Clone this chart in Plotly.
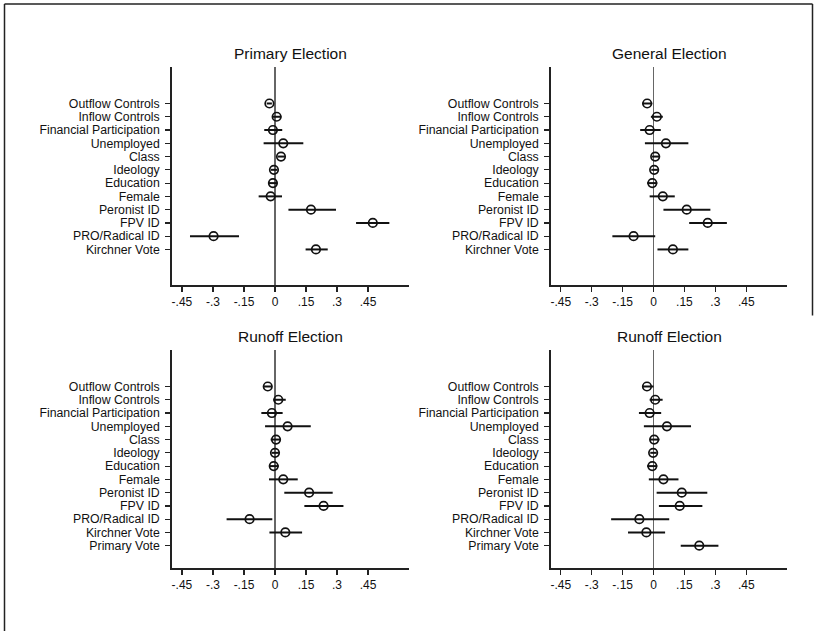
import plotly.graph_objects as go

labels_top = ["Outflow Controls", "Inflow Controls", "Financial Participation", "Unemployed",
              "Class", "Ideology", "Education", "Female", "Peronist ID", "FPV ID",
              "PRO/Radical ID", "Kirchner Vote"]
labels_bottom = labels_top + ["Primary Vote"]

titles = ["Primary Election", "General Election", "Runoff Election", "Runoff Election"]

# Primary Election
p1_est = [-0.027, 0.008, -0.010, 0.040, 0.029, -0.005, -0.010, -0.021, 0.174, 0.473, -0.297, 0.198]
p1_lo  = [-0.040, -0.011, -0.052, -0.055, 0.013, -0.020, -0.030, -0.079, 0.065, 0.392, -0.411, 0.148]
p1_hi  = [-0.015, 0.031, 0.035, 0.137, 0.048, 0.011, 0.010, 0.034, 0.295, 0.553, -0.174, 0.255]

# General Election
p2_est = [-0.031, 0.016, -0.019, 0.060, 0.008, 0.003, -0.006, 0.045, 0.161, 0.263, -0.097, 0.094]
p2_lo  = [-0.056, -0.013, -0.065, -0.042, -0.008, -0.011, -0.031, -0.019, 0.048, 0.173, -0.200, 0.019]
p2_hi  = [-0.006, 0.045, 0.035, 0.169, 0.029, 0.021, 0.018, 0.103, 0.276, 0.356, 0.008, 0.169]

# Runoff Election (left)
p3_est = [-0.035, 0.016, -0.015, 0.061, 0.005, 0.000, -0.006, 0.040, 0.165, 0.235, -0.123, 0.050]
p3_lo  = [-0.053, -0.008, -0.066, -0.048, -0.021, -0.016, -0.027, -0.029, 0.045, 0.142, -0.234, -0.027]
p3_hi  = [-0.016, 0.052, 0.037, 0.173, 0.029, 0.019, 0.018, 0.110, 0.279, 0.331, -0.013, 0.131]

# Runoff Election (right, with Primary Vote)
p4_est = [-0.032, 0.008, -0.019, 0.065, 0.003, -0.002, -0.006, 0.048, 0.137, 0.127, -0.069, -0.035, 0.222]
p4_lo  = [-0.056, -0.019, -0.071, -0.047, -0.019, -0.016, -0.031, -0.023, 0.015, 0.026, -0.206, -0.124, 0.132]
p4_hi  = [0.000, 0.044, 0.037, 0.182, 0.029, 0.015, 0.018, 0.121, 0.261, 0.237, 0.076, 0.056, 0.315]

x_tickvals = [-0.45, -0.3, -0.15, 0, 0.15, 0.3, 0.45]
x_ticktext = ["-.45", "-.3", "-.15", "0", ".15", ".3", ".45"]

W, H = 817, 631
FONT = "Liberation Sans, Arial, Helvetica, sans-serif"

panels = [
    (p1_est, p1_lo, p1_hi, labels_top, labels_bottom),
    (p2_est, p2_lo, p2_hi, labels_top, labels_bottom),
    (p3_est, p3_lo, p3_hi, labels_bottom, labels_bottom),
    (p4_est, p4_lo, p4_hi, labels_bottom, labels_bottom),
]

# pixel layout of the plot areas (left, right, top, bottom)
boxes = [(172, 409, 67, 285), (551, 787, 67, 285),
         (172, 409, 350, 568), (551, 787, 350, 568)]

fig = go.Figure()
layout = dict(
    width=W, height=H, margin=dict(l=0, r=0, t=0, b=0),
    paper_bgcolor="white", plot_bgcolor="white", showlegend=False,
    font=dict(family=FONT, color="#111"),
)

annotations = []
for i, ((est, lo, hi, ticks, cats), (l, r, t, b)) in enumerate(zip(panels, boxes)):
    n = i + 1
    xa = "x" if n == 1 else f"x{n}"
    ya = "y" if n == 1 else f"y{n}"
    labs = ticks[:len(est)]
    fig.add_trace(go.Scatter(
        x=est, y=labs, mode="markers", xaxis=xa, yaxis=ya,
        marker=dict(symbol="circle-open", size=8.5, color="#111", line=dict(width=1.7, color="#111")),
        error_x=dict(type="data", symmetric=False,
                     array=[h - e for h, e in zip(hi, est)],
                     arrayminus=[e - lo_ for e, lo_ in zip(est, lo)],
                     width=0, thickness=2, color="#111"),
        hoverinfo="skip",
    ))
    layout[f"xaxis{'' if n == 1 else n}"] = dict(
        domain=[l / W, r / W], anchor=ya, range=[-0.498, 0.648],
        tickvals=x_tickvals, ticktext=x_ticktext, ticks="outside", ticklen=5,
        tickwidth=1.2, tickcolor="#222", showline=True, linecolor="#222", linewidth=1.6,
        showgrid=False, zeroline=True, zerolinecolor="#666", zerolinewidth=1.2,
        tickfont=dict(size=12, color="#111"), fixedrange=True,
    )
    layout[f"yaxis{'' if n == 1 else n}"] = dict(
        domain=[1 - b / H, 1 - t / H], anchor=xa, type="category",
        categoryorder="array", categoryarray=cats,
        tickmode="array", tickvals=ticks, ticktext=ticks,
        range=[13.68, -2.75], ticks="outside", ticklen=5, tickwidth=1.2,
        tickcolor="#222", showline=True, linecolor="#222", linewidth=1.8,
        showgrid=False, zeroline=False, ticklabelstandoff=3,
        tickfont=dict(size=12.3, color="#111"), fixedrange=True,
    )
    annotations.append(dict(
        text=titles[i], xref="paper", yref="paper",
        x=(l + r) / 2 / W, y=1 - (t - 14) / H, xanchor="center", yanchor="middle",
        showarrow=False, font=dict(size=15.5, family=FONT, color="#111"),
    ))

layout["annotations"] = annotations
layout["shapes"] = [
    dict(type="line", xref="paper", yref="paper", x0=4.5 / W, x1=4.5 / W, y0=0, y1=1 - 4 / H,
         line=dict(color="#222", width=1.5)),
    dict(type="line", xref="paper", yref="paper", x0=4.5 / W, x1=812.5 / W, y0=1 - 4 / H, y1=1 - 4 / H,
         line=dict(color="#222", width=1.5)),
    dict(type="line", xref="paper", yref="paper", x0=812.5 / W, x1=812.5 / W, y0=1 - 4 / H, y1=0.5,
         line=dict(color="#222", width=1.5)),
]
fig.update_layout(**layout)
fig.write_html(
    "out.html",
    config={"displayModeBar": False, "staticPlot": True},
    post_script="document.documentElement.style.margin='0';document.body.style.margin='0';"
                "document.body.style.overflow='hidden';",
)
